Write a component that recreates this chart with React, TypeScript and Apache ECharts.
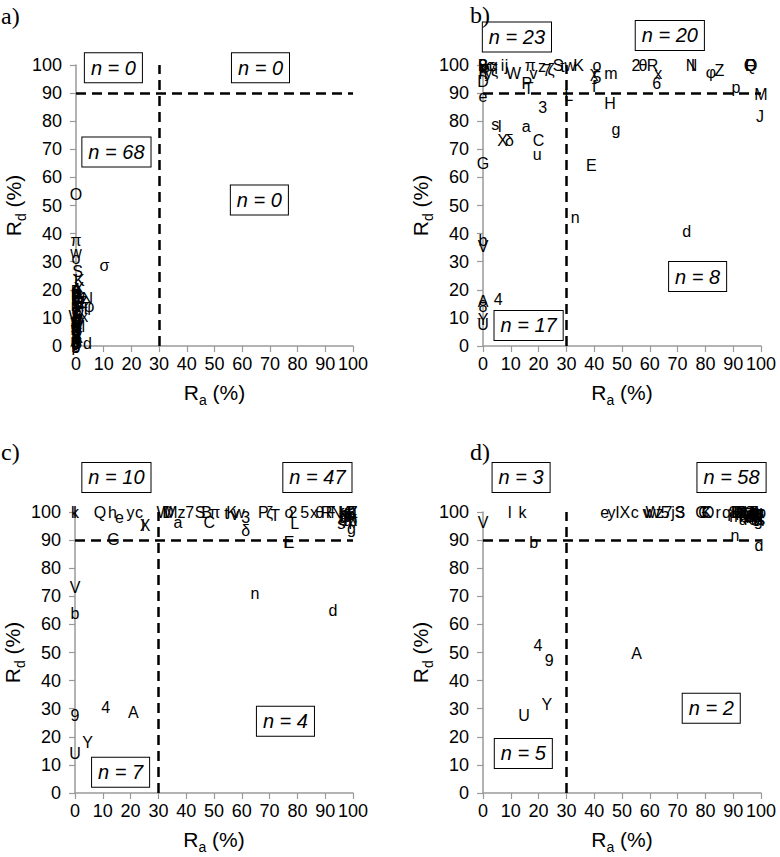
import React, { useEffect, useRef } from 'react';
import * as echarts from 'echarts';

// ---------- Panel a ----------
const labelsA = ['O','π','w','o','S','K','σ','N','φ','x','d','W',
  'A','B','C','D','E','F','G','H','I','J','L','M','P','Q','R','T','U','V','X','Y','Z',
  'a','b','c','e','f','g','h','i','j','k','l','m','n','p','q','r','s','t','u','v','y','z',
  '2','3','4','5','6','7','8','9','δ','ζ','θ','χ','ξ'];
const xA = [0,0,0,0,0.6,1.2,10.3,4.1,4.8,3,4.1,0,
  0,0,0.5,0,1,0,0.5,0,0,0.5, 0,1, 0,0.5,1,3.5,0,0, 1,0,2.5,
  0,0.5,0, 0,0.5,0,0,0,0.5,0,0,0.5,0, 0,0.5,0,0,1,0,0, 0.5,1,
  0,0.5,0,0,0,1,0,0, 0.5,0,0,1,0];
const yA = [54,37.7,33.2,31.2,26.5,23.2,28.5,17,14.2,10.4,1,10.4,
  2,19.5,12,6,15,0,17,8,13,4, 11,7, 18,9,16,13.5,1,5, 20.5,3,15.5,
  14,19,10, 16,6,0.5,18.5,12.5,2.5,7.5,9.5,14.5,4.5, 0,8,15,11.5,3,2.5,6.5, 1.5,13,
  17.5,11,20,3.5,16.5,9,5.5,8.5, 1,12,19,4,7];
const boxTextA = ['n = 0','n = 0','n = 68','n = 0'];
const boxXA = [13.5,66.6,14.6,66.2];
const boxYA = [99,99,69,52];

// ---------- Panel b ----------
const labelsB = ['e','s','l','X','δ','a','C','u','3','G','b','V','A','4','8','Y','U',
  'L','H','g','E','n','d','J','M',
  'w','K','o','χ','5','f','m','2','θ','R','x','6','N','I','φ','Z','F','O','p','Q',
  'B','D','c','r','i','j','y','ξ','W','v','7','z','π','S','t','P','T','k','h','q','ζ','9','σ'];
const xB = [0,4.4,6,7,9.5,15.5,20,19.5,21.5,0,0,0,0,5.5,0,0,0,
  30.8,45.7,47.8,39,33.2,73.3,99.6,100,
  31.4,34.4,41,40,41,40,46,55,57.5,61,63,62.5,75,75.5,82,85,96,96.5,91,96,
  0,0,2.5,0,7,8.5,2,4.2,11,18.2,23,21.2,17,27,28.6,15.8,16.4,0,0,3.8,24.5,0,1];
const yB = [88.7,79,78,73,73,78,73,68,85,65,37.5,35.5,16,16.5,14,9.5,7.5,
  89.3,86.4,76.9,64.4,45.8,40.7,81.6,89.5,
  100,100,100,97.5,95.5,92.5,97,100,100,100,97,93.5,100,100,97.5,98,100,100,92,100,
  100,94,100,99,100,100,97.5,98,97,96.8,98,99.6,100,100,99.5,93.5,91.7,98.5,97,100,98.5,100,99];
const boxTextB = ['n = 23','n = 20','n = 8','n = 17'];
const boxXB = [12.2,67.2,77.2,16.4];
const boxYB = [110,110.5,24.7,7.3];

// ---------- Panel c ----------
const labelsC = ['k','I','Q','h','e','y','c','l','X','G',
  'V','b','9','4','A','Y','U',
  'n','d','E','r',
  'W','D','M','a','z','7','S','B','π','C','K','w','3','δ','P','ζ','T',
  'F','H','J','L','N','O','R','Z',
  'f','g','i','j','m','o','p','q','s','t','u','v','x',
  '2','5','6','8','σ','φ','θ','χ','ξ'];
const xC = [0,0,9,13.5,16,20,23,24.5,25.2,13.8,
  0,0,0,11,21,4.5,0,
  64.7,92.8,77,76,
  32,33.5,34.5,37,38.3,41.3,45,47.3,50.3,48.3,56.3,59,61.4,61.4,67.7,70,72,
  92,97,98,79,94,99,90.5,100,
  96,99.4,97.5,98.5,99,77,100,96.5,95.8,54.5,98,57.5,86,
  78.4,82.6,99.5,97,98,99,88,100,96];
const yC = [100,100,100,100,98,100,100,95.3,95.3,90.2,
  73,64,27.5,30.5,28.5,18,14,
  70.9,65,89.3,89.3,
  100,100,100,96.4,100,100,100,100,100,96.4,100,100,98,93.5,100,100,98.8,
  100,100,100,95.8,100,100,100,100,
  99,94,99,99.5,98,100,97,98,95.8,99.5,97,99,100,
  100,100,99,98.5,100,99,100,98,97.5];
const boxTextC = ['n = 10','n = 47','n = 4','n = 7'];
const boxXC = [14.9,87.2,75.7,16.4];
const boxYC = [112.3,112.3,25.5,7.4];

// ---------- Panel d ----------
const labelsD = ['V','l','k',
  'b','4','9','Y','U',
  'A','d',
  'e','y','I','X','c','v','W','z','5','7','j','S','3','G','K','r','q','8','n',
  'D','E','F','H','J','L','M','N','P','Q','R','T','Z',
  'a','f','g','h','i',
  'm','o','p','s','t','u','x',
  '2','6',
  'π','σ','φ','δ','ζ','θ','χ','ξ',
  'B','C','O','w'];
const xD = [0,9.6,14.2,
  18.2,19.8,23.8,23,14.8,
  55.2,99.3,
  43.8,46.2,48.4,51,54.6,58.8,61.2,63.6,65.5,66.5,68.4,70.8,71,78.6,80.4,84.6,87.6,90,90.6,
  91.5,92,92.5,93,93.5,94,94.5,95,95.5,96,96.5,97,97.5,
  98,98.5,99,99.5,100,
  91,98,99,100,92.5,93.5,95,
  96,97,
  98.5,99,100,94,96.5,97.5,99.5,100,
  91,79.5,81,60];
const yD = [96.4,100,100,
  89,52.5,47.2,31.6,27.6,
  49.6,88.1,
  100,100,100,100,100,100,100,100,100,100,100,100,100,100,100,100,100,100,91.7,
  100,100,99,100,99,100,98.5,100,99,100,98,100,99,
  100,98,97,100,99,
  98.5,97,98.5,97.5,100,97.5,98,
  98.5,97.5,
  100,100,100,98.5,100,100,98,98.5,
  100,100,100,100];
const boxTextD = ['n = 3','n = 58','n = 2','n = 5'];
const boxXD = [13.7,89.4,82.1,14.5];
const boxYD = [112.3,112.3,30.2,14.1];

const TICK_MIN = 0;
const TICK_MAX = 100;
const TICK_STEP = 10;
const THRESH_A = 30;
const THRESH_D = 90;
const PANEL_TAGS = ['a)', 'b)', 'c)', 'd)'];

const FONT = '"Liberation Sans", Arial, sans-serif';

const panels = [
  { labels: labelsA, x: xA, y: yA, bt: boxTextA, bx: boxXA, by: boxYA },
  { labels: labelsB, x: xB, y: yB, bt: boxTextB, bx: boxXB, by: boxYB },
  { labels: labelsC, x: xC, y: yC, bt: boxTextC, bx: boxXC, by: boxYC },
  { labels: labelsD, x: xD, y: yD, bt: boxTextD, bx: boxXD, by: boxYD },
];

const grids = [
  { left: 76, top: 65, width: 277, height: 281 },
  { left: 483, top: 65, width: 278, height: 281 },
  { left: 75, top: 512, width: 278, height: 281 },
  { left: 483, top: 512, width: 278, height: 281 },
];

const tagPos = [
  { left: 1, top: 4 },
  { left: 470, top: 3 },
  { left: 1, top: 440 },
  { left: 470, top: 440 },
];

const nameRich = {
  r: { fontSize: 21, color: '#000', fontFamily: FONT, lineHeight: 30, verticalAlign: 'middle' },
  s: { fontSize: 14, color: '#000', fontFamily: FONT, lineHeight: 30, verticalAlign: 'bottom' },
};

export default function App() {
  const ref = useRef<HTMLDivElement>(null);
  useEffect(() => {
    if (!ref.current) return;
    const chart = echarts.init(ref.current, null, { renderer: 'svg' });
    const axisCommon = (i: number) => ({
      gridIndex: i,
      type: 'value',
      min: TICK_MIN,
      max: TICK_MAX,
      interval: TICK_STEP,
      axisLine: { show: true, onZero: false, lineStyle: { color: '#9a9a9a', width: 1.5 } },
      axisTick: { show: true, length: 6, lineStyle: { color: '#9a9a9a', width: 1.2 } },
      splitLine: { show: false },
      nameLocation: 'middle',
      nameTextStyle: { rich: nameRich },
    });
    const xAxis = grids.map((_, i) => ({
      ...axisCommon(i),
      axisLabel: { color: '#000', fontSize: 18, fontFamily: FONT, margin: 9 },
      name: '{r|R}{s|a}{r| (%)}',
      nameGap: 31,
    }));
    const yAxis = grids.map((_, i) => ({
      ...axisCommon(i),
      axisLabel: { color: '#000', fontSize: 18, fontFamily: FONT, margin: 14 },
      name: '{r|R}{s|d}{r| (%)}',
      nameGap: 47,
      nameRotate: 90,
    }));
    const series: any[] = [];
    panels.forEach((p, i) => {
      series.push({
        type: 'scatter',
        xAxisIndex: i,
        yAxisIndex: i,
        symbol: 'circle',
        symbolSize: 0,
        clip: false,
        itemStyle: { color: '#000', opacity: 1 },
        label: {
          show: true,
          position: 'inside',
          formatter: '{b}',
          color: '#000',
          textBorderWidth: 0,
          textBorderColor: '#000',
          opacity: 1,
          fontSize: 16,
          fontFamily: FONT,
        },
        emphasis: { disabled: true },
        labelLayout: { hideOverlap: false },
        data: p.labels.map((l, k) => ({ name: l, value: [p.x[k], p.y[k]] })),
        markLine: {
          silent: true,
          symbol: ['none', 'none'],
          label: { show: false },
          lineStyle: { color: '#000', type: [10, 6], width: 2.5 },
          data: [
            [{ coord: [TICK_MIN, THRESH_D] }, { coord: [TICK_MAX, THRESH_D] }],
            [{ coord: [THRESH_A, TICK_MIN] }, { coord: [THRESH_A, TICK_MAX] }],
          ],
        },
        z: 3,
      });
      series.push({
        type: 'scatter',
        xAxisIndex: i,
        yAxisIndex: i,
        symbol: 'circle',
        symbolSize: 0,
        clip: false,
        itemStyle: { color: '#000', opacity: 1 },
        emphasis: { disabled: true },
        label: {
          show: true,
          position: 'inside',
          formatter: '{b}',
          color: '#000',
          textBorderWidth: 0,
          textBorderColor: '#000',
          opacity: 1,
          fontSize: 20,
          fontStyle: 'italic',
          fontFamily: FONT,
          backgroundColor: '#fff',
          borderColor: '#000',
          borderWidth: 1,
          padding: [5, 6, 4, 6],
        },
        data: p.bt.map((t, k) => ({ name: t, value: [p.bx[k], p.by[k]] })),
        z: 5,
      });
    });
    chart.setOption({
      animation: false,
      backgroundColor: '#fff',
      color: ['#000'],
      textStyle: { fontFamily: FONT },
      grid: grids.map((g) => ({ ...g, containLabel: false })),
      xAxis,
      yAxis,
      series,
      graphic: PANEL_TAGS.map((t, i) => ({
        type: 'text',
        left: tagPos[i].left,
        top: tagPos[i].top,
        z: 10,
        style: {
          text: t,
          fill: '#000',
          fontSize: 24,
          fontFamily: '"Liberation Serif", "Times New Roman", serif',
        },
      })),
    });
    return () => chart.dispose();
  }, []);
  return (
    <div
      ref={ref}
      style={{ position: 'absolute', left: 0, top: 0, width: 780, height: 857 }}
    />
  );
}
